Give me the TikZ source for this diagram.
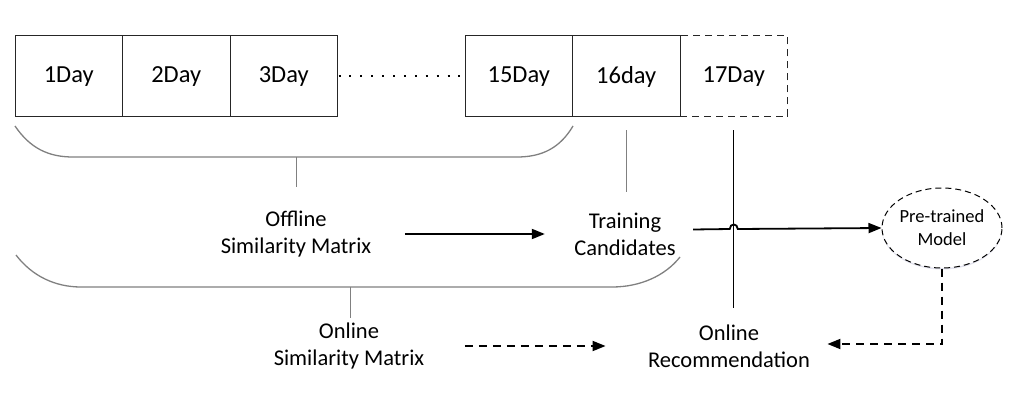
\documentclass[tikz,border=0pt]{standalone}
\usepackage{fontspec}
\setmainfont{Carlito}
\usetikzlibrary{positioning,shapes.geometric,arrows.meta,shadows}

\tikzset{
  day/.style={draw=black!85, line width=1pt, minimum width=107.5pt, minimum height=81pt,
    inner sep=0pt, outer sep=0pt, font=\fontsize{24.5}{28}\selectfont},
  lbl/.style={align=center, font=\fontsize{22.5}{27}\selectfont},
  brace/.style={draw=gray, line width=1.3pt},
  stem/.style={draw=gray, line width=1pt},
  arr/.style={-{Triangle[length=13pt,width=10pt]}, line width=1.8pt},
  darr/.style={arr, dash pattern=on 8pt off 6pt},
}

\begin{document}
\begin{tikzpicture}[x=1pt, y=-1pt]
  \useasboundingbox (0,0) rectangle (1021,404);
  % Define nodes
  \node[day] (d1) at (68.75,76.5) {1Day};
  \node[day, right=0pt of d1] (d2) {2Day};
  \node[day, right=0pt of d2] (d3) {3Day};
  \node[day] (d15) at (518.75,76.5) {15Day};
  \node[day, right=0pt of d15] (d16) {16day};
  \node[day, right=0pt of d16, dash pattern=on 7pt off 5pt] (d17) {17Day};
  \node[lbl] (off) at (296,234) {Offline\\Similarity Matrix};
  \node[lbl] (tc) at (625,234) {Training\\Candidates};
  \node[lbl] (on) at (349,346) {Online\\Similarity Matrix};
  \node[lbl] (orec) at (729,346) {Online\\Recommendation};
  \node[ellipse, draw, line width=1pt, dash pattern=on 6pt off 4pt, fill=white,
    minimum width=120pt, minimum height=80pt, inner sep=0pt, align=center,
    font=\fontsize{18.5}{23}\selectfont,
    drop shadow={shadow xshift=0pt, shadow yshift=-1.5pt, fill=blue!25!gray!30, opacity=0.6}]
    (model) at (942,228) {Pre-trained\\Model};
  \coordinate (ts) at (tc.east |- model.west);
  \coordinate (j) at (model.west -| d17);
  \coordinate (e17) at (733.75,308);
  % Braces
  \draw[line width=2pt, dash pattern=on 2pt off 8.9pt] ([xshift=1pt]d3.east) -- ([xshift=-5pt]d15.west);
  \draw[brace] (15,126) .. controls (30,148) and (48,157) .. (73,157) -- (517,157)
    .. controls (542,157) and (560,148) .. (573,126);
  \draw[stem] (296,157) -- (296,187);
  \draw[brace] (16,255) .. controls (32,276) and (55,287) .. (81,287) -- (612,287)
    .. controls (640,287) and (665,276) .. (680,257);
  \draw[stem] (350,287) -- (350,318);
  \draw[stem] ([yshift=-13pt]d16.south) -- ([yshift=-75pt]d16.south);
  \draw[line width=0.8pt] ([yshift=-13pt]d17.south) -- (e17);
  % Connect nodes
  \draw[arr] ([xshift=30pt]off.east) -- ([xshift=-26pt]tc.west);
  \draw[arr] ([xshift=14pt,yshift=-1.5pt]ts) -- ([xshift=-4pt,yshift=-1pt]j) .. controls +(0,-6) and +(0,-6)
    .. ([xshift=4pt,yshift=-1pt]j) -- (model.west);
  \draw[darr] ([xshift=37pt]on.east) -- ([xshift=-39pt]orec.west);
  \draw[darr] (model.south) |- ([xshift=14pt,yshift=2pt]orec.east);
\end{tikzpicture}
\end{document}
